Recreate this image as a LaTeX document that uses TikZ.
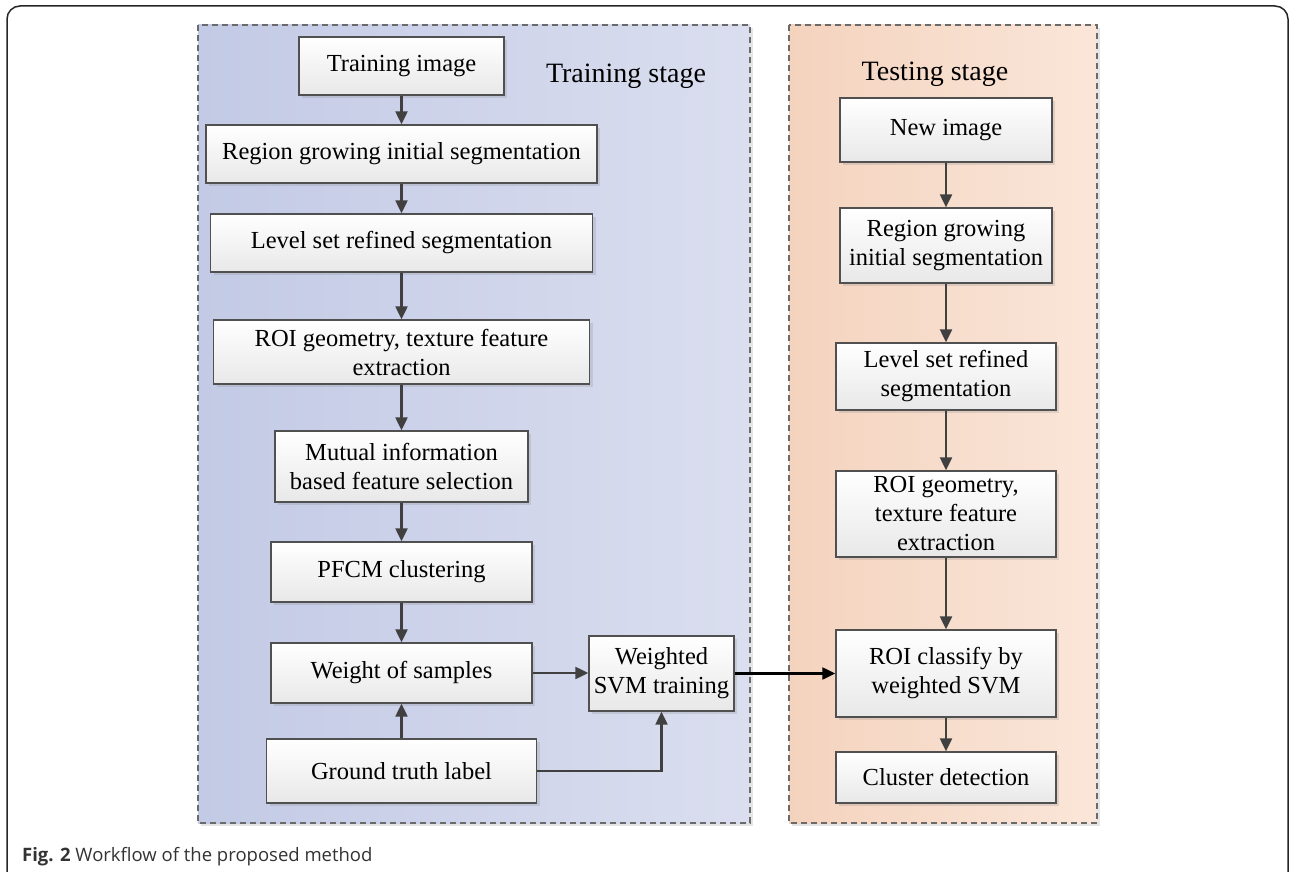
\documentclass[tikz,border=0pt]{standalone}
\usepackage{fontspec}
\setmainfont{Liberation Serif}
\newfontfamily\capfont{Open Sans}
\usetikzlibrary{arrows.meta,shadows}
\definecolor{trainL}{HTML}{C3CAE5}
\definecolor{trainR}{HTML}{DADEEF}
\definecolor{testL}{HTML}{F4D3BE}
\definecolor{testR}{HTML}{FAE6D9}
\definecolor{boxline}{HTML}{505050}
\definecolor{boxbot}{HTML}{E8E8E8}
\definecolor{arrowc}{HTML}{404040}
\definecolor{frameline}{HTML}{6A6A6A}
\definecolor{captxt}{HTML}{333333}
\begin{document}
\begin{tikzpicture}[x=1pt,y=-1pt,
  box/.style={draw=boxline, line width=1.3pt, top color=white, bottom color=boxbot,
    align=center, inner sep=0pt, font=\fontsize{24.5}{29}\selectfont,
    drop shadow={shadow xshift=3pt, shadow yshift=-3pt, opacity=0.22, fill=black!50}},
  arr/.style={draw=arrowc, line width=2.1pt, -{Triangle[length=13pt,width=12pt]}},
  blackarr/.style={draw=black, line width=2.1pt, -{Triangle[length=13pt,width=12pt]}},
  stageframe/.style={draw=frameline, line width=1.2pt, dash pattern=on 6pt off 4pt},
  stagelabel/.style={anchor=base, inner sep=0pt, font=\fontsize{28}{32}\selectfont}]
\useasboundingbox (0,0) rectangle (1290,872);
% outer frame
\draw[line width=1.5pt, draw=black!85, rounded corners=13pt] (7,880) -- (7,6) -- (1288,6) -- (1288,880);
% containers
\fill[black!10] (201,28) rectangle (753,826);
\shade[left color=trainL, right color=trainR] (198,25) rectangle (750,823);
\draw[stageframe] (198,25) rectangle (750,823);
\fill[black!10] (792,28) rectangle (1100,826);
\shade[left color=testL, right color=testR] (789,25) rectangle (1097,823);
\draw[stageframe] (789,25) rectangle (1097,823);
\node[stagelabel] (trainlab) at (626,83) {Training stage};
\node[stagelabel] (testlab) at (935,81) {Testing stage};
% training column
\node[box, minimum width=205pt, minimum height=58pt] (ti) at (401.5,66) {Training image};
\node[box, minimum width=391pt, minimum height=58pt] (rg) at (401.5,154) {Region growing initial segmentation};
\node[box, minimum width=382pt, minimum height=58pt] (ls) at (401.5,243) {Level set refined segmentation};
\node[box, minimum width=376pt, minimum height=64pt] (roi) at (401.5,352) {ROI geometry, texture feature\\extraction};
\node[box, minimum width=253pt, minimum height=71pt] (mi) at (401.5,466.5) {Mutual information\\based feature selection};
\node[box, minimum width=261pt, minimum height=60pt] (pf) at (401.5,572) {PFCM clustering};
\node[box, minimum width=261pt, minimum height=60pt] (ws) at (401.5,673) {Weight of samples};
\node[box, minimum width=270pt, minimum height=64pt] (gt) at (401.5,771) {Ground truth label};
\node[box, minimum width=145pt, minimum height=75pt] (svm) at (661.5,673.5) {Weighted\\SVM training};
% testing column
\node[box, minimum width=212pt, minimum height=64pt] (ni) at (946,130) {New image};
\node[box, minimum width=212pt, minimum height=75pt] (rg2) at (946,245.5) {Region growing\\initial segmentation};
\node[box, minimum width=220pt, minimum height=67pt] (ls2) at (946,376.5) {Level set refined\\segmentation};
\node[box, minimum width=220pt, minimum height=86pt] (roi2) at (946,514) {ROI geometry,\\texture feature\\extraction};
\node[box, minimum width=220pt, minimum height=87pt] (cls) at (946,673.5) {ROI classify by\\weighted SVM};
\node[box, minimum width=220pt, minimum height=51pt] (cd) at (946,777.5) {Cluster detection};
% arrows training
\draw[arr] (ti) -- (rg);
\draw[arr] (rg) -- (ls);
\draw[arr] (ls) -- (roi);
\draw[arr] (roi) -- (mi);
\draw[arr] (mi) -- (pf);
\draw[arr] (pf) -- (ws);
\draw[arr] (gt) -- (ws);
\draw[arr] (ws.east) -- (ws.east -| svm.west);
\draw[arr] (gt.east) -| (svm.south);
% arrows testing
\draw[arr] (ni) -- (rg2);
\draw[arr] (rg2) -- (ls2);
\draw[arr] (ls2) -- (roi2);
\draw[arr] (roi2) -- (cls);
\draw[arr] (cls) -- (cd);
\draw[blackarr] (svm.east) -- (svm.east -| cls.west);
% caption
\node[anchor=base west, inner sep=0pt, font=\capfont\fontsize{18.5}{22}\selectfont, text=captxt] (cap) at (22,861) {\textbf{Fig. 2} Workflow of the proposed method};
\end{tikzpicture}
\end{document}
